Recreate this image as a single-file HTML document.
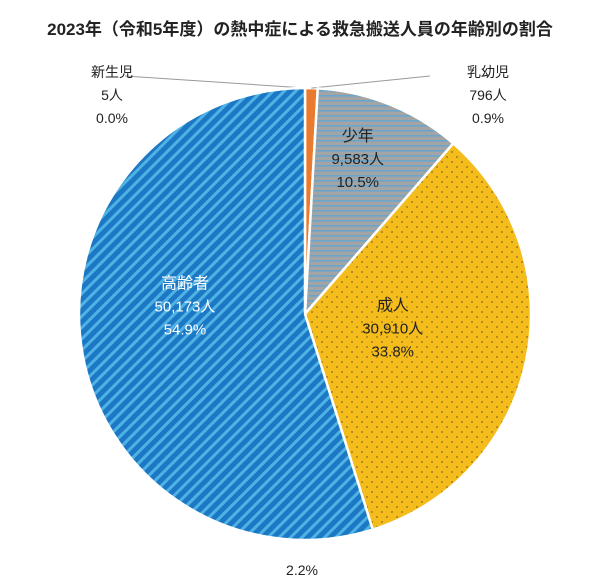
<!DOCTYPE html>
<html><head><meta charset="utf-8"><style>
body{margin:0;background:#fff;width:600px;height:583px;overflow:hidden;font-family:"Liberation Sans","Noto Sans CJK JP",sans-serif}
</style></head><body>
<svg width="600" height="583">
<defs>
<pattern id="pGray" width="6" height="5" patternUnits="userSpaceOnUse"><rect width="6" height="5" fill="#a4a4a4"/><rect y="0" width="6" height="1.6" fill="#6aa6cc"/></pattern>
<pattern id="pYellow" width="10" height="10" patternUnits="userSpaceOnUse"><rect width="10" height="10" fill="#f5bd1c"/><circle cx="2" cy="2" r="0.9" fill="#8a6a20"/><circle cx="7" cy="7" r="0.9" fill="#8a6a20"/></pattern>
<pattern id="pBlue" width="8" height="8" patternUnits="userSpaceOnUse" patternTransform="rotate(45)"><rect width="8" height="8" fill="#1c78c4"/><rect width="3" height="8" fill="#4fb2e4"/></pattern>
</defs>
<text x="300" y="35" text-anchor="middle" font-size="17" font-weight="bold" fill="#222">2023年（令和5年度）の熱中症による救急搬送人員の年齢別の割合</text>
<g id="slices"></g>
<g id="labels" fill="#222" text-anchor="middle"></g>
<text x="302" y="575" text-anchor="middle" font-size="14" fill="#222">2.2%</text>
</svg>
<script>
const categories=["新生児","乳幼児","少年","成人","高齢者"];
const counts=["5","796","9,583","30,910","50,173"];
const percents=[0.0,0.9,10.5,33.8,54.9];
const fills=["#e97a2e","#e97a2e","url(#pGray)","url(#pYellow)","url(#pBlue)"];
const adj=[[0,0],[0,0],[0,-25],[-45,-13],[14,-28]];
const cx=305,cy=314,r=226;
const total=percents.reduce((a,b)=>a+b,0);
const ns="http://www.w3.org/2000/svg";
const gS=document.getElementById('slices'),gL=document.getElementById('labels');
function pt(a,rr){return [cx+rr*Math.sin(a),cy-rr*Math.cos(a)];}
let a0=0;
percents.forEach((p,i)=>{
  const a1=a0+p/total*2*Math.PI;
  const s=pt(a0,r),e=pt(a1,r);
  const path=document.createElementNS(ns,'path');
  path.setAttribute('d',`M${cx},${cy}L${s[0]},${s[1]}A${r},${r} 0 ${a1-a0>Math.PI?1:0} 1 ${e[0]},${e[1]}Z`);
  path.setAttribute('fill',fills[i]);path.setAttribute('stroke','#fff');path.setAttribute('stroke-width','2.5');
  
  
  gS.appendChild(path);
  const mid=(a0+a1)/2;
  let lx,ly,col="#222",fs=14;
  if(i<2){
    const m=pt(mid,r);
    const tx=i==0?150:455, ty=76;
    const ln=document.createElementNS(ns,'path');
    ln.setAttribute('d',`M${m[0]},${m[1]}L${tx-25},${ty}`);
    ln.setAttribute('stroke','#999');ln.setAttribute('fill','none');
    
    
    gS.appendChild(ln);
    lx=i==0?112:488; ly=77;
  } else {
    const q=pt(mid,r*(i==2?0.62:0.6)); lx=q[0]+adj[i][0]; ly=q[1]-18+adj[i][1];
    if(i==4) col="#fff";
    fs=15;
  }
  [categories[i],counts[i]+"人",percents[i].toFixed(1)+"%"].forEach((t,k)=>{
    const tx=document.createElementNS(ns,'text');
    tx.setAttribute('x',lx);tx.setAttribute('y',ly+k*23);tx.setAttribute('fill',col);
    tx.setAttribute('font-size',k==0&&i>=2?16:fs);
    tx.textContent=t;
    
    
    gL.appendChild(tx);
  });
  a0=a1;
});
</script>
</body></html>
